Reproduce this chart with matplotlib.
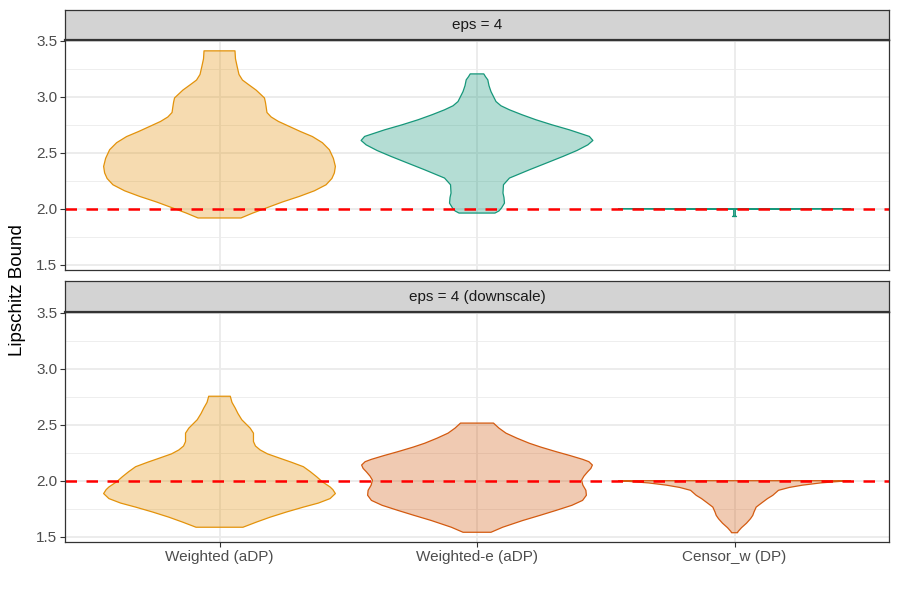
import matplotlib
matplotlib.use("Agg")
import matplotlib.pyplot as plt

plt.rcParams['font.family'] = ['Liberation Sans', 'DejaVu Sans']

# ---------------- data ----------------
categories = ["Weighted (aDP)", "Weighted-e (aDP)", "Censor_w (DP)"]
panel_titles = ["eps = 4", "eps = 4 (downscale)"]
y_ticks = [1.5, 2.0, 2.5, 3.0, 3.5]
y_tick_labels = ["1.5", "2.0", "2.5", "3.0", "3.5"]
y_minor = [1.75, 2.25, 2.75, 3.25]
reference_value = 2.0
y_label = "Lipschitz Bound"

# violin outlines: y values and half-widths (116 = widest)
top_weighted_y = [1.917, 1.96, 2.006, 2.06, 2.11, 2.16, 2.214, 2.27, 2.32, 2.378, 2.45, 2.527,
                  2.59, 2.645, 2.69, 2.735, 2.78, 2.82, 2.86, 2.91, 2.95, 2.99, 3.06, 3.11,
                  3.15, 3.2, 3.27, 3.34, 3.411]
top_weighted_w = [21.5, 33, 46.7, 63, 80, 95, 106.7, 112.5, 115, 116, 114, 110,
                  103, 93, 81, 70, 59, 51.7, 47.5, 46.7, 46, 45, 36.7, 29,
                  23, 19.5, 17.7, 16, 15.5]

top_weighted_e_y = [1.961, 1.98, 2.006, 2.05, 2.10, 2.14, 2.214, 2.274, 2.348, 2.41, 2.467,
                    2.52, 2.571, 2.61, 2.646, 2.705, 2.75, 2.795, 2.84, 2.884, 2.92, 2.958,
                    3.047, 3.10, 3.152, 3.18, 3.205]
top_weighted_e_w = [18, 22, 24.5, 27.5, 27, 26, 26.5, 32.5, 52.5, 70, 86,
                    100, 111, 116, 112.5, 92.5, 75, 59, 45, 32.5, 24, 19,
                    14, 12, 10.8, 8.5, 6.8]

top_censor_y = [1.93, 1.935, 1.995, 2.0]
top_censor_w = [2.0, 0.8, 0.8, 116]

bot_weighted_y = [1.584, 1.63, 1.674, 1.72, 1.764, 1.80, 1.84, 1.885, 1.92, 1.944, 1.99,
                  2.035, 2.08, 2.125, 2.165, 2.2, 2.24, 2.275, 2.31, 2.35, 2.39, 2.425,
                  2.47, 2.545, 2.60, 2.65, 2.70, 2.755]
bot_weighted_w = [23.5, 37, 50.7, 67, 84, 99, 110.7, 116, 113.5, 110.7, 103,
                  97.3, 91, 84, 72, 60.7, 48, 40.7, 36, 34, 34, 34,
                  30.7, 22.3, 18.5, 15.7, 12.5, 10.8]

bot_weighted_e_y = [1.539, 1.584, 1.644, 1.69, 1.734, 1.78, 1.824, 1.87, 1.914, 1.96, 2.005,
                    2.04, 2.079, 2.11, 2.14, 2.17, 2.191, 2.225, 2.26, 2.30, 2.335, 2.38,
                    2.425, 2.47, 2.515]
bot_weighted_e_w = [14, 25.7, 45.7, 63, 79, 95, 105.7, 109.5, 109, 106, 104.7,
                    107, 110.7, 114, 115.5, 112, 105.7, 93, 79, 64, 52.3, 40,
                    29, 22, 16.5]

bot_censor_y = [1.535, 1.545, 1.58, 1.62, 1.66, 1.69, 1.72, 1.764, 1.80, 1.84, 1.869,
                1.914, 1.94, 1.96, 1.98, 1.99, 2.0]
bot_censor_w = [3, 3.5, 7, 12, 16, 18.3, 19.5, 21.7, 27, 33, 38.3,
                44, 55, 68, 86, 100, 116]

panels_y = [[top_weighted_y, top_weighted_e_y, top_censor_y],
            [bot_weighted_y, bot_weighted_e_y, bot_censor_y]]
panels_w = [[top_weighted_w, top_weighted_e_w, top_censor_w],
            [bot_weighted_w, bot_weighted_e_w, bot_censor_w]]
panel_colors = [["#E3920A", "#16977A", "#16977A"],
                ["#E3920A", "#D35A10", "#D35A10"]]

# ---------------- style ----------------
W_MAX = 116.0
HALF = 0.45
fig = plt.figure(figsize=(9, 6), dpi=100)
FW, FH = 900.0, 600.0
left_px, right_px = 65, 889
panel_px = [(10, 40, 270), (281, 312, 542)]   # strip top, panel top, panel bottom
ylim = (1.452, 3.508)

for p in range(2):
    st, pt, pb = panel_px[p]
    ax = fig.add_axes([left_px / FW, 1 - pb / FH, (right_px - left_px) / FW, (pb - pt) / FH])
    ax.set_xlim(0.4, 3.6)
    ax.set_ylim(*ylim)
    ax.set_facecolor("white")
    for yv in y_minor:
        ax.axhline(yv, color="#EBEBEB", lw=0.6, zorder=0)
    for yv in y_ticks:
        ax.axhline(yv, color="#EBEBEB", lw=1.3, zorder=0)
    for i in range(len(categories)):
        ax.axvline(i + 1, color="#EBEBEB", lw=1.3, zorder=0)
    for i in range(len(categories)):
        ys = panels_y[p][i]
        ws = panels_w[p][i]
        xs_l = [i + 1 - HALF * w / W_MAX for w in ws]
        xs_r = [i + 1 + HALF * w / W_MAX for w in ws]
        px = xs_l + xs_r[::-1]
        py = list(ys) + list(ys)[::-1]
        c = panel_colors[p][i]
        ax.fill(px, py, facecolor=c, alpha=0.32, edgecolor="none", zorder=2)
        ax.fill(px, py, facecolor="none", edgecolor=c, lw=0.9, joinstyle="round", zorder=3)
    ax.axhline(reference_value, color="#FF0000", lw=1.8, dashes=(4.6, 3.8), zorder=4)
    ax.set_yticks(y_ticks)
    ax.set_yticklabels(y_tick_labels)
    ax.set_yticks(y_minor, minor=True)
    ax.tick_params(axis="y", which="major", length=3.5, width=0.8, color="#333333",
                   labelsize=11, labelcolor="#4D4D4D", pad=2)
    ax.tick_params(axis="y", which="minor", length=0)
    ax.set_xticks(range(1, len(categories) + 1))
    if p == 1:
        ax.set_xticklabels(categories)
        ax.tick_params(axis="x", length=3.5, width=0.8, color="#333333",
                       labelsize=11, labelcolor="#4D4D4D", pad=2)
    else:
        ax.set_xticklabels([])
        ax.tick_params(axis="x", length=0)
    for s in ax.spines.values():
        s.set_color("#333333")
        s.set_linewidth(0.9)
        s.set_zorder(5)
    sax = fig.add_axes([left_px / FW, 1 - pt / FH, (right_px - left_px) / FW, (pt - st) / FH])
    sax.set_facecolor("#D3D3D3")
    sax.set_xticks([])
    sax.set_yticks([])
    for s in sax.spines.values():
        s.set_color("#333333")
        s.set_linewidth(0.9)
    sax.spines["bottom"].set_linewidth(1.6)
    sax.text(0.5, 0.5, panel_titles[p], ha="center", va="center", fontsize=11,
             color="#1A1A1A", transform=sax.transAxes)

fig.text(18 / FW, 1 - 290 / FH, y_label, rotation=90, ha="center", va="center",
         fontsize=13.5, color="black")

fig.savefig("out.png", dpi=100)
